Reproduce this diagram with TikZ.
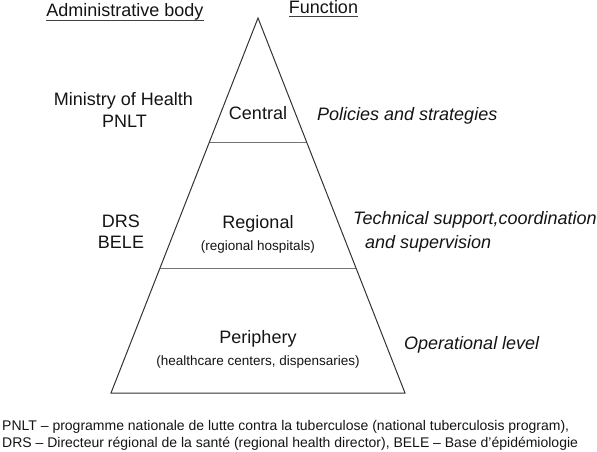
\documentclass[tikz,border=0pt]{standalone}
\usepackage{fontspec}
\setmainfont{Liberation Sans}
\begin{document}
\begin{tikzpicture}[x=1pt,y=-1pt,
  big/.style={font=\fontsize{18}{21}\selectfont, anchor=base, inner sep=0pt, text=black!92},
  bigl/.style={big, anchor=base west},
  bigi/.style={bigl, font=\fontsize{18}{21}\selectfont\itshape},
  small/.style={font=\fontsize{13.5}{16}\selectfont, anchor=base, inner sep=0pt, text=black!92},
  note/.style={font=\fontsize{14}{17}\selectfont, anchor=base west, inner sep=0pt, text=black!92},
  edge/.style={draw=black!80, line width=1pt},
  divider/.style={draw=black!55, line width=1pt},
  uline/.style={draw=black!75, line width=1pt}]
\useasboundingbox (0,0) rectangle (597,452);
% pyramid
\coordinate (apex) at (258,18);
\coordinate (l1) at (209.4,142); \coordinate (r1) at (306.6,142);
\coordinate (l2) at (160,268);   \coordinate (r2) at (356,268);
\coordinate (l3) at (111,393);   \coordinate (r3) at (405,393);
\draw[divider] (l1) -- (r1);
\draw[divider] (l2) -- (r2);
\draw[edge, line join=miter] (l3) -- (apex) -- (r3) -- cycle;
% headings
\node[big] (hadmin) at (125,16.5) {Administrative body};
\node[big] (hfunc) at (323.5,13.5) {Function};
\draw[uline] ([yshift=-4.5pt]hadmin.base west) -- ([yshift=-4.5pt]hadmin.base east);
\draw[uline] ([yshift=-3.5pt]hfunc.base west) -- ([yshift=-3.5pt]hfunc.base east);
% central
\node[big] (moh) at (123.5,105.5) {Ministry of Health};
\node[big] (pnlt) at (124.5,127.5) {PNLT};
\node[big] (central) at (258,119.5) {Central};
\node[bigi] (policies) at (317,121) {Policies and strategies};
% regional
\node[big] (drs) at (121,227.5) {DRS};
\node[big] (bele) at (121,248.5) {BELE};
\node[big] (regional) at (258,228.5) {Regional};
\node[small] (reghosp) at (258,250) {(regional hospitals)};
\node[bigi] (tech1) at (353,224.5) {Technical support,coordination};
\node[bigi] (tech2) at (365,248.5) {and supervision};
% periphery
\node[big] (periph) at (258,343.5) {Periphery};
\node[small] (health) at (258,365) {(healthcare centers, dispensaries)};
\node[bigi] (oper) at (404,349.5) {Operational level};
% footnote
\node[note] (fn1) at (2,430) {PNLT – programme nationale de lutte contra la tuberculose (national tuberculosis program),};
\node[note] (fn2) at (2,447) {DRS – Directeur régional de la santé (regional health director), BELE – Base d’épidémiologie};
\end{tikzpicture}
\end{document}
